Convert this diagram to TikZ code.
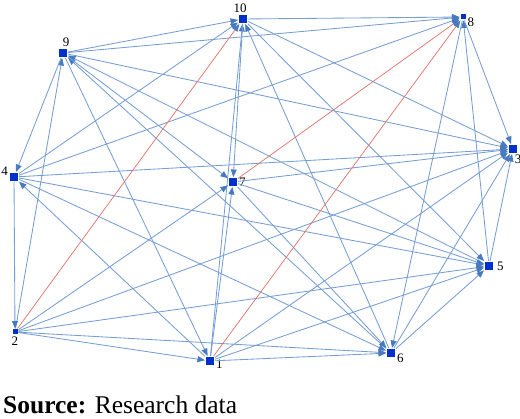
\documentclass[tikz,border=0pt]{standalone}
\usepackage{fontspec}
\setmainfont{Liberation Serif}
\usepackage{tikz}
\usetikzlibrary{arrows.meta}
\definecolor{nodeblue}{RGB}{0,48,204}
\definecolor{edgeblue}{RGB}{118,158,212}
\definecolor{tipblue}{RGB}{72,122,192}
\definecolor{edgered}{RGB}{222,120,110}

\begin{document}
\begin{tikzpicture}[x=1pt,y=-1pt,
  vert/.style={rectangle,fill=nodeblue,inner sep=0pt,minimum size=8pt,outer sep=1pt},
  tinyvert/.style={vert,minimum size=5pt},
  numlab/.style={font=\fontsize{13}{15}\selectfont,inner sep=1pt},
  link/.style={edgeblue,line width=0.85pt,-{Triangle[length=7.5pt,width=6pt,color=tipblue]}},
  redlink/.style={link,edgered,line width=0.75pt}]
\useasboundingbox (0,0) rectangle (520,419);
% vertices
\node[vert,label={[numlab,xshift=-3pt]above:10}] (n10) at (243,19) {};
\node[vert,label={[numlab,xshift=3pt]above:9}] (n9) at (63,53) {};
\node[vert,label={[numlab,yshift=6pt]left:4}] (n4) at (14,177) {};
\node[vert,label={[numlab]right:7}] (n7) at (233,182) {};
\node[tinyvert,label={[numlab,yshift=-5pt]right:8}] (n8) at (463,17) {};
\node[vert,label={[numlab,xshift=5pt]below:3}] (n3) at (513,149) {};
\node[tinyvert,label={[numlab]below:2}] (n2) at (15,332) {};
\node[vert,label={[numlab,yshift=-3pt]right:1}] (n1) at (210,361) {};
\node[vert,label={[numlab,xshift=2pt]right:5}] (n5) at (489,266) {};
\node[vert,label={[numlab,yshift=-5pt]right:6}] (n6) at (391,353) {};
% arcs
\draw [link] (n1) -- (n4);
\draw [link] (n1) -- (n10);
\draw [link] (n1) -- (n3);
\draw [link] (n1) -- (n5);
\draw [link] (n1) -- (n6);
\draw [link] (n1) -- (n7);
\draw [link] (n2) -- (n9);
\draw [link] (n2) -- (n7);
\draw [link] (n2) -- (n3);
\draw [link] (n2) -- (n5);
\draw [link] (n2) -- (n6);
\draw [link] (n2) -- (n1);
\draw [link] (n4) -- (n10);
\draw [link] (n4) -- (n8);
\draw [link] (n4) -- (n3);
\draw [link] (n4) -- (n5);
\draw [link] (n4) -- (n6);
\draw [link] (n4) -- (n2);
\draw [link] (n5) -- (n8);
\draw [link] (n5) -- (n3);
\draw [link] (n5) -- (n9);
\draw [link] (n6) -- (n9);
\draw [link] (n6) -- (n10);
\draw [link] (n6) -- (n3);
\draw [link] (n6) -- (n5);
\draw [link] (n7) -- (n3);
\draw [link] (n7) -- (n5);
\draw [link] (n7) -- (n6);
\draw [link] (n8) -- (n3);
\draw [link] (n8) -- (n6);
\draw [link] (n9) -- (n10);
\draw [link] (n9) -- (n8);
\draw [link] (n9) -- (n3);
\draw [link] (n9) -- (n4);
\draw [link] (n9) -- (n1);
\draw [link] (n9) -- (n7);
\draw [link] (n10) -- (n8);
\draw [link] (n10) -- (n3);
\draw [link] (n10) -- (n7);
\draw [link] (n10) -- (n5);
\draw [redlink] (n2) -- (n10);
\draw [redlink] (n7) -- (n8);
\draw [redlink] (n1) -- (n8);
% caption
\node[anchor=base west,inner sep=0pt,font=\fontsize{25.5}{30}\selectfont] (src) at (3,413.5) {\textbf{Source:} Research data};
\end{tikzpicture}
\end{document}
